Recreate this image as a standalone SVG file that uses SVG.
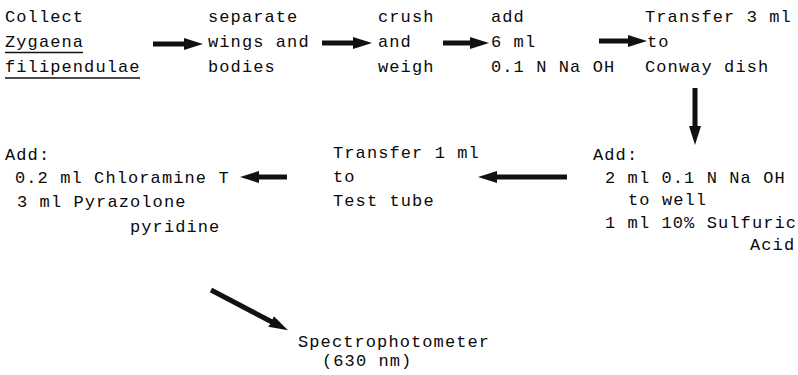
<svg xmlns="http://www.w3.org/2000/svg" width="798" height="375" viewBox="0 0 798 375">
  <style>
    text { font-family: "Liberation Mono", "DejaVu Sans Mono", monospace; font-size: 17px; letter-spacing: 1.1px; fill: #0a0a0a; }
    .flow { stroke: #111; stroke-width: 5; fill: none; marker-end: url(#head); }
    .rule { stroke: #111; stroke-width: 1.6; }
  </style>
  <defs>
    <marker id="head" markerUnits="userSpaceOnUse" viewBox="0 -7 20 14" refX="1" refY="0" markerWidth="20" markerHeight="14" orient="auto">
      <path d="M0,-6 L19,0 L0,6 z" fill="#111"/>
    </marker>
  </defs>

  <rect width="798" height="375" fill="#fff"/>

  <g id="collect">
    <text x="5" y="22">Collect</text>
    <text x="5" y="47">Zygaena</text>
    <line class="rule" x1="5" y1="52.5" x2="83" y2="52.5"/>
    <text x="5" y="72">filipendulae</text>
    <line class="rule" x1="5" y1="78" x2="140" y2="78"/>
  </g>

  <g id="separate">
    <text x="208" y="22">separate</text>
    <text x="208" y="47">wings and</text>
    <text x="208" y="72">bodies</text>
  </g>

  <g id="crush">
    <text x="378" y="22">crush</text>
    <text x="378" y="47">and</text>
    <text x="378" y="72">weigh</text>
  </g>

  <g id="add-naoh">
    <text x="491" y="22">add</text>
    <text x="491" y="47">6 ml</text>
    <text x="491" y="72">0.1 N Na OH</text>
  </g>

  <g id="transfer-conway">
    <text x="645" y="22">Transfer 3 ml</text>
    <text x="647" y="47">to</text>
    <text x="645" y="72">Conway dish</text>
  </g>

  <g id="add-acid">
    <text x="593" y="160">Add:</text>
    <text x="605" y="183">2 ml 0.1 N Na OH</text>
    <text x="628" y="205">to well</text>
    <text x="605" y="228">1 ml 10% Sulfuric</text>
    <text x="750" y="250">Acid</text>
  </g>

  <g id="transfer-tube">
    <text x="333" y="158">Transfer 1 ml</text>
    <text x="333" y="182">to</text>
    <text x="333" y="206">Test tube</text>
  </g>

  <g id="add-reagents">
    <text x="5" y="160">Add:</text>
    <text x="15" y="183">0.2 ml Chloramine T</text>
    <text x="17" y="207">3 ml Pyrazolone</text>
    <text x="130" y="232">pyridine</text>
  </g>

  <g id="spectro">
    <text x="298" y="347">Spectrophotometer</text>
    <text x="322" y="366">(630 nm)</text>
  </g>

  <g id="connectors">
    <line class="flow" x1="153" y1="44" x2="185" y2="44"/>
    <line class="flow" x1="322" y1="43" x2="354" y2="43"/>
    <line class="flow" x1="443" y1="43" x2="471" y2="43"/>
    <line class="flow" x1="599" y1="41" x2="629" y2="41"/>
    <line class="flow" x1="695" y1="88" x2="695" y2="127"/>
    <line class="flow" x1="567" y1="177" x2="496" y2="177"/>
    <line class="flow" x1="287" y1="177" x2="258" y2="177"/>
    <line class="flow" x1="211" y1="290" x2="272" y2="322"/>
  </g>
</svg>
